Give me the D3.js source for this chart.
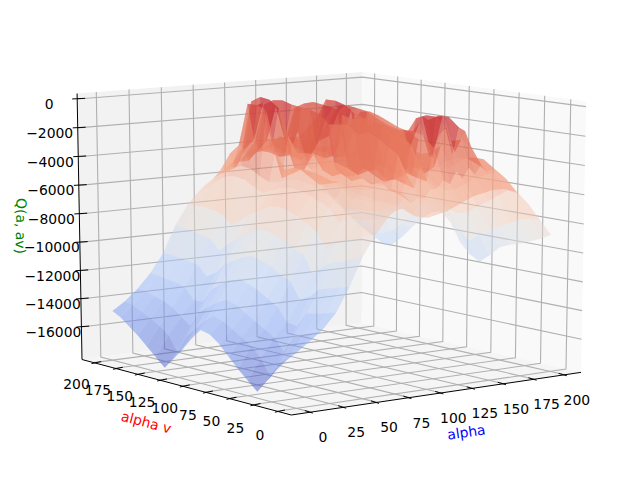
<!DOCTYPE html>
<html>
<head>
<meta charset="utf-8">
<script src="https://cdn.jsdelivr.net/npm/d3@7"></script>
<style>
  html, body { margin: 0; padding: 0; background: #fff; }
  svg { display: block; }
  text { font-family: "DejaVu Sans", sans-serif; font-size: 13.9px; }
</style>
</head>
<body>
<svg id="chart" width="640" height="480"></svg>
<script>
// alpha runs along the rows, alpha v along the columns
const alphaValues = [0, 10, 20, 30, 40, 50, 60, 70, 75, 80, 85, 90, 95, 100, 105, 110, 115, 120, 125, 130, 135, 140, 145, 150, 155, 160, 170, 180, 190, 199];
const alphaVValues = [0, 10, 20, 30, 40, 50, 60, 70, 80, 90, 100, 110, 120, 130, 140, 150, 160, 170, 180, 190, 199];

const qValues = [
  [-14630,-15300,-16100,-17000,-17900,-17300,-16700,-16000,-15300,-14800,-14650,-15400,-16300,-17100,-17900,-17300,-16700,-16100,-15600,-15100,-14800],
  [-14000,-14700,-15300,-15900,-17000,-15900,-15200,-14800,-14400,-14000,-13800,-14300,-15000,-15700,-16900,-15900,-15400,-15000,-14700,-14400,-14200],
  [-13300,-13700,-14000,-14300,-15400,-14600,-14200,-13800,-13400,-13000,-12800,-13100,-13600,-14100,-15200,-14700,-14200,-13900,-13700,-13500,-13400],
  [-12300,-12500,-12700,-12800,-13800,-13700,-12800,-12400,-12000,-11700,-11500,-11700,-12100,-12600,-13600,-13700,-12900,-12700,-12600,-12500,-12400],
  [-10700,-10900,-11100,-11300,-11900,-12300,-11200,-10900,-10500,-10200,-10000,-10200,-10600,-11000,-11700,-12100,-11400,-11300,-11200,-11100,-11100],
  [-8800,-9100,-9400,-9600,-10000,-10700,-9500,-9200,-8800,-8500,-8300,-8400,-8800,-9300,-9800,-10400,-9700,-9500,-9400,-9300,-9200],
  [-7400,-7700,-8000,-8200,-8500,-9000,-8000,-7600,-7200,-6900,-6800,-6900,-7300,-7700,-8200,-8700,-8100,-7900,-7800,-7800,-7800],
  [-6300,-6600,-6800,-6900,-7000,-7400,-6500,-6200,-5900,-5700,-5600,-5700,-6000,-6300,-6000,-5600,-5500,-5600,-6000,-6600,-6850],
  [-6000,-6200,-6300,-6400,-6400,-6700,-5900,-5700,-5400,-5200,-5100,-5200,-5500,-5600,-5300,-4900,-4800,-5000,-5400,-6200,-6500],
  [-5900,-5800,-5800,-5900,-5800,-5900,-5300,-4900,-4700,-4500,-4400,-4400,-4700,-3500,-700,-500,-500,-3500,-4200,-5400,-6200],
  [-6200,-5900,-5800,-5800,-5700,-5600,-5400,-5000,-5200,-5400,-5000,-4600,-5000,-5400,-3200,-400,-3000,-3800,-5200,-5600,-5900],
  [-6500,-5300,-5000,-4900,-4800,-4700,-4300,-4000,-3800,-3600,-3500,-3500,-3600,-2500,-700,-200,-100,-500,-3800,-4900,-5600],
  [-6600,-5800,-5400,-5200,-4800,-5000,-4700,-5000,-4600,-4900,-4600,-3600,-4800,-4800,-3000,-700,-3200,-4000,-4800,-5000,-5300],
  [-6700,-5500,-4200,-2800,-2400,-1900,-1600,-1900,-1300,-1400,-1500,-900,-700,-600,-500,-300,-400,-800,-3500,-4500,-5100],
  [-6600,-5600,-5000,-4800,-4600,-4900,-4600,-4200,-4800,-5000,-4600,-1200,-3200,-4400,-2400,-4200,-4400,-4200,-4200,-4500,-5000],
  [-6500,-5000,-3500,-2200,-1700,-1500,-1200,-1400,-1000,-1100,-900,-500,-400,-300,-500,-900,-3200,-3400,-3400,-4200,-4800],
  [-6400,-5000,-4600,-4500,-4300,-4800,-5000,-4400,-4600,-5000,-4600,-800,-2600,-3000,-4000,-4600,-4400,-4200,-3900,-4300,-4600],
  [-6200,-4500,-2400,-1700,-1500,-1500,-1600,-1400,-1300,-1100,-900,-400,-200,-200,-1600,-2400,-3200,-3300,-3300,-3900,-4500],
  [-6000,-4800,-1500,-3200,-900,-2800,-4800,-4600,-4200,-4800,-4600,-800,-3000,-4200,-4500,-4200,-4200,-4000,-3900,-4100,-4500],
  [-5800,-4000,-1200,-500,-500,-800,-2000,-1700,-1500,-1200,-800,-700,-600,-700,-2000,-2800,-3500,-3500,-3500,-3900,-4600],
  [-5600,-4500,-3000,-500,-3400,-700,-4800,-4300,-4800,-4400,-4600,-3800,-2400,-4200,-4500,-4200,-4200,-4200,-4200,-4300,-4800],
  [-5500,-3800,-1200,-600,-600,-1000,-2400,-2000,-1800,-1500,-1200,-1000,-1100,-2200,-3300,-3800,-4000,-4000,-4000,-4300,-5000],
  [-5400,-4300,-1500,-3000,-900,-4200,-4800,-4400,-4700,-4400,-4200,-3900,-4000,-4400,-4600,-4600,-4600,-4500,-4600,-4800,-5200],
  [-5300,-3700,-2600,-2200,-2400,-2800,-3400,-3600,-3400,-3100,-2800,-2600,-3000,-3600,-4200,-4500,-4700,-4700,-4800,-5000,-5500],
  [-5300,-4200,-3800,-3500,-3600,-3900,-4600,-4800,-4400,-4100,-3800,-3700,-4200,-4700,-5000,-5000,-5200,-5200,-5300,-5400,-5800],
  [-5300,-4000,-3500,-3500,-3800,-4300,-4800,-5000,-4800,-4400,-4000,-4100,-4600,-5000,-5300,-5500,-5600,-5600,-5700,-5800,-6200],
  [-5600,-4800,-4500,-4800,-5100,-5600,-6100,-6300,-6000,-5500,-5000,-5100,-5800,-6500,-6900,-7200,-7300,-7300,-7300,-7400,-7500],
  [-6500,-5900,-5800,-6300,-6800,-7300,-7800,-8000,-7700,-7000,-6200,-6300,-7000,-7800,-8400,-8800,-9000,-9100,-9000,-8900,-8800],
  [-7700,-7700,-7900,-8300,-8700,-9000,-9500,-10000,-9400,-8500,-7600,-7400,-8000,-8900,-9700,-10300,-10600,-10700,-10300,-9800,-9600],
  [-8800,-9200,-9500,-9800,-10000,-10300,-11000,-11600,-11200,-10500,-9200,-8500,-8700,-9300,-10000,-10800,-11500,-11700,-11300,-10900,-10500]
];

const planarTicks = [0, 25, 50, 75, 100, 125, 150, 175, 200];
const zTicks = [0, -2000, -4000, -6000, -8000, -10000, -12000, -14000, -16000];

const elev = 11 * Math.PI / 180;
const azim = 233 * Math.PI / 180;
const dist = 10;

// data limits, same margins matplotlib would give
const xLim = [-9.95, 208.95];
const yLim = [-9.95, 208.95];
const zLim = [-17950, 0];
const xNorm = d3.scaleLinear().domain(xLim).range([0, 1]);
const yNorm = d3.scaleLinear().domain(yLim).range([0, 1]);
const zNorm = d3.scaleLinear().domain(zLim).range([0, 1]);

const eyeDir = [Math.cos(elev) * Math.cos(azim), Math.cos(elev) * Math.sin(azim), Math.sin(elev)];
let right = [-eyeDir[1], eyeDir[0], 0];
const rightLen = Math.hypot(right[0], right[1]);
right = right.map(d => d / rightLen);
const up = [
  eyeDir[1] * right[2] - eyeDir[2] * right[1],
  eyeDir[2] * right[0] - eyeDir[0] * right[2],
  eyeDir[0] * right[1] - eyeDir[1] * right[0]
];
const dot = (a, b) => a[0] * b[0] + a[1] * b[1] + a[2] * b[2];

function cameraProject(n) {
  const p = [n[0] - 0.5, n[1] - 0.5, n[2] - 0.5];
  const depth = dist - dot(p, eyeDir);
  return [dot(p, right) / depth, dot(p, up) / depth, depth];
}

const paneLo = -1 / 48;
const paneHi = 49 / 48;

const screenX = d3.scaleLinear()
  .domain([cameraProject([paneLo, paneHi, paneLo])[0], cameraProject([paneHi, paneLo, paneLo])[0]])
  .range([82, 581]);
const screenY = d3.scaleLinear()
  .domain([cameraProject([paneLo, paneLo, paneLo])[1], cameraProject([paneHi, paneHi, paneHi])[1]])
  .range([415, 72]);

function fromNorm(n) {
  const c = cameraProject(n);
  return [screenX(c[0]), screenY(c[1]), c[2]];
}
const project = (x, y, z) => fromNorm([xNorm(x), yNorm(y), zNorm(z)]);

const xMin = xNorm.invert(paneLo), xMax = xNorm.invert(paneHi);
const yMin = yNorm.invert(paneLo), yMax = yNorm.invert(paneHi);
const zMin = zNorm.invert(paneLo), zMax = zNorm.invert(paneHi);

const svg = d3.select('#chart');
const line = d3.line();
const flat = pts => pts.map(p => [p[0], p[1]]);

// panes
const panes = [
  { fill: '#f2f2f2', pts: [[xMin, yMax, zMin], [xMax, yMax, zMin], [xMax, yMax, zMax], [xMin, yMax, zMax]] },
  { fill: '#f9f9f9', pts: [[xMax, yMin, zMin], [xMax, yMax, zMin], [xMax, yMax, zMax], [xMax, yMin, zMax]] },
  { fill: '#f5f5f5', pts: [[xMin, yMin, zMin], [xMax, yMin, zMin], [xMax, yMax, zMin], [xMin, yMax, zMin]] }
];
svg.append('g').selectAll('path').data(panes).join('path')
  .attr('d', d => line(flat(d.pts.map(p => project(...p)))) + 'Z')
  .attr('fill', d => d.fill);

// grid
const gridLines = [];
planarTicks.forEach(t => {
  gridLines.push([[t, yMin, zMin], [t, yMax, zMin], [t, yMax, zMax]]);
  gridLines.push([[xMin, t, zMin], [xMax, t, zMin], [xMax, t, zMax]]);
});
zTicks.forEach(t => {
  gridLines.push([[xMin, yMax, t], [xMax, yMax, t], [xMax, yMin, t]]);
});
svg.append('g').selectAll('path').data(gridLines).join('path')
  .attr('d', d => line(flat(d.map(p => project(...p)))))
  .attr('fill', 'none')
  .attr('stroke', '#b0b0b0')
  .attr('stroke-width', 1.1);

// axes
const axisLines = [
  [[xMin, yMin, zMin], [xMax, yMin, zMin]],
  [[xMin, yMin, zMin], [xMin, yMax, zMin]],
  [[xMin, yMax, zMin], [xMin, yMax, zMax]]
];
svg.append('g').selectAll('path').data(axisLines).join('path')
  .attr('d', d => line(flat(d.map(p => project(...p)))))
  .attr('fill', 'none')
  .attr('stroke', '#000')
  .attr('stroke-width', 1);

const tickG = svg.append('g').attr('stroke', '#000').attr('stroke-width', 1);
const labelG = svg.append('g').attr('fill', '#000').attr('text-anchor', 'middle');

planarTicks.forEach(t => {
  const a = project(t, yMin, zMin);
  const b = project(t, yMin + 6, zMin);
  tickG.append('line').attr('x1', a[0] + 2).attr('y1', a[1] + 1).attr('x2', b[0]).attr('y2', b[1]);
  labelG.append('text').attr('x', a[0] + 12).attr('y', a[1] + 30).text(t);

  const c = project(xMin, t, zMin);
  const d = project(xMin + 6, t, zMin);
  tickG.append('line').attr('x1', c[0] - 2).attr('y1', c[1] + 1).attr('x2', d[0]).attr('y2', d[1]);
  labelG.append('text').attr('x', c[0] - 17).attr('y', c[1] + 28.5 - t / 100).text(t);
});
zTicks.forEach(t => {
  const a = project(xMin, yMax, t);
  const b = project(xMin + 6, yMax, t);
  tickG.append('line').attr('x1', a[0] - 5).attr('y1', a[1]).attr('x2', b[0]).attr('y2', b[1]);
  labelG.append('text').attr('x', a[0] - 28).attr('y', a[1] + 10)
    .text(t < 0 ? '\u2212' + Math.abs(t) : t);
});

// surface, coolwarm
const coolwarm = d3.scaleLinear()
  .domain([0, 0.125, 0.25, 0.375, 0.5, 0.625, 0.75, 0.875, 1])
  .range(['#3b4cc0', '#6282ea', '#8db0fe', '#b8d0f9', '#dddddd', '#f5c4ac', '#f49a7b', '#dd604a', '#b40426']);
const colorNorm = d3.scaleLinear().domain(zLim).range([0, 1]);

const facets = [];
alphaValues.slice(1).forEach((a1, i) => {
  const a0 = alphaValues[i];
  alphaVValues.slice(1).forEach((v1, j) => {
    const v0 = alphaVValues[j];
    const corners = [
      [a0, v0, qValues[i][j]],
      [a1, v0, qValues[i + 1][j]],
      [a1, v1, qValues[i + 1][j + 1]],
      [a0, v1, qValues[i][j + 1]]
    ];
    const pts = corners.map(p => project(...p));
    facets.push({
      pts,
      depth: d3.mean(pts, p => p[2]),
      q: d3.mean(corners, p => p[2])
    });
  });
});
facets.sort((a, b) => d3.descending(a.depth, b.depth));

svg.append('g').selectAll('path').data(facets).join('path')
  .attr('d', d => line(flat(d.pts)) + 'Z')
  .attr('fill', d => coolwarm(colorNorm(d.q)))
  .attr('fill-opacity', 0.5);

// axis labels
svg.append('text').attr('transform', 'translate(467,437) rotate(-8.5)')
  .attr('text-anchor', 'middle').attr('fill', 'blue').text('alpha');
svg.append('text').attr('transform', 'translate(145,427) rotate(15)')
  .attr('text-anchor', 'middle').attr('fill', 'red').text('alpha v');
svg.append('text').attr('transform', 'translate(16,226) rotate(91)')
  .attr('text-anchor', 'middle').attr('fill', 'green').text('Q(a, av)');
</script>
</body>
</html>
